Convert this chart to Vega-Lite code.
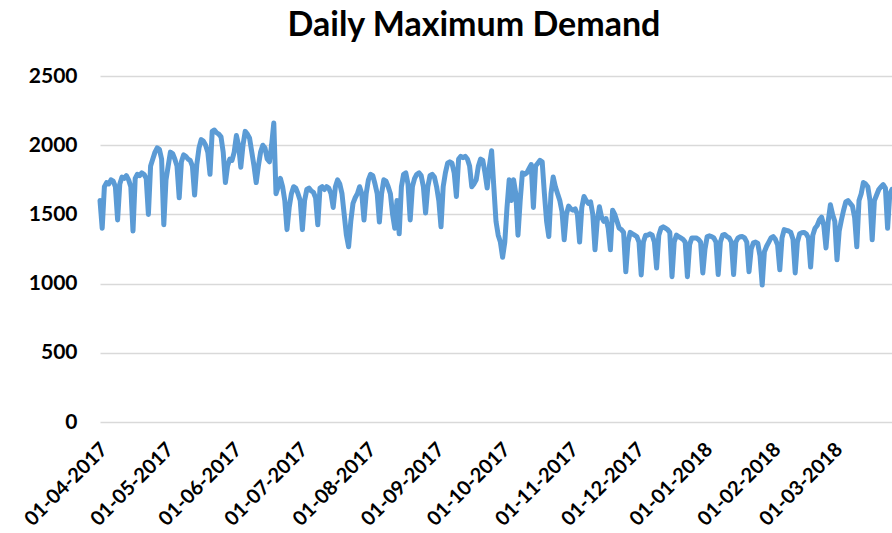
{
  "$schema": "https://vega.github.io/schema/vega-lite/v6.json",
  "width": 792,
  "height": 346,
  "autosize": {"type": "none"},
  "padding": {"left": 100, "top": 76, "right": 0, "bottom": 111},
  "background": "#ffffff",
  "config": {"view": {"stroke": null}},
  "title": {"text": "Daily Maximum Demand", "font": "Lato", "fontSize": 34, "fontWeight": "bold", "color": "#000000", "anchor": "middle", "dx": -22, "offset": 22},
  "data": {"values": [
    {"date":"2017-04-01","demand":1600},{"date":"2017-04-02","demand":1400},{"date":"2017-04-03","demand":1700},{"date":"2017-04-04","demand":1730},{"date":"2017-04-05","demand":1720},{"date":"2017-04-06","demand":1750},{"date":"2017-04-07","demand":1740},{"date":"2017-04-08","demand":1700},{"date":"2017-04-09","demand":1460},{"date":"2017-04-10","demand":1720},{"date":"2017-04-11","demand":1770},{"date":"2017-04-12","demand":1760},{"date":"2017-04-13","demand":1780},{"date":"2017-04-14","demand":1750},{"date":"2017-04-15","demand":1700},{"date":"2017-04-16","demand":1380},{"date":"2017-04-17","demand":1760},{"date":"2017-04-18","demand":1790},{"date":"2017-04-19","demand":1780},{"date":"2017-04-20","demand":1800},{"date":"2017-04-21","demand":1790},{"date":"2017-04-22","demand":1760},{"date":"2017-04-23","demand":1500},{"date":"2017-04-24","demand":1850},{"date":"2017-04-25","demand":1900},{"date":"2017-04-26","demand":1950},{"date":"2017-04-27","demand":1980},{"date":"2017-04-28","demand":1970},{"date":"2017-04-29","demand":1900},{"date":"2017-04-30","demand":1425},
    {"date":"2017-05-01","demand":1750},{"date":"2017-05-02","demand":1850},{"date":"2017-05-03","demand":1950},{"date":"2017-05-04","demand":1940},{"date":"2017-05-05","demand":1900},{"date":"2017-05-06","demand":1850},{"date":"2017-05-07","demand":1620},{"date":"2017-05-08","demand":1880},{"date":"2017-05-09","demand":1930},{"date":"2017-05-10","demand":1920},{"date":"2017-05-11","demand":1900},{"date":"2017-05-12","demand":1890},{"date":"2017-05-13","demand":1850},{"date":"2017-05-14","demand":1640},{"date":"2017-05-15","demand":1860},{"date":"2017-05-16","demand":1980},{"date":"2017-05-17","demand":2040},{"date":"2017-05-18","demand":2030},{"date":"2017-05-19","demand":2000},{"date":"2017-05-20","demand":1950},{"date":"2017-05-21","demand":1790},{"date":"2017-05-22","demand":2100},{"date":"2017-05-23","demand":2110},{"date":"2017-05-24","demand":2090},{"date":"2017-05-25","demand":2080},{"date":"2017-05-26","demand":2060},{"date":"2017-05-27","demand":1950},{"date":"2017-05-28","demand":1730},{"date":"2017-05-29","demand":1850},{"date":"2017-05-30","demand":1900},{"date":"2017-05-31","demand":1890},
    {"date":"2017-06-01","demand":1950},{"date":"2017-06-02","demand":2070},{"date":"2017-06-03","demand":2000},{"date":"2017-06-04","demand":1840},{"date":"2017-06-05","demand":2000},{"date":"2017-06-06","demand":2100},{"date":"2017-06-07","demand":2080},{"date":"2017-06-08","demand":2050},{"date":"2017-06-09","demand":1950},{"date":"2017-06-10","demand":1850},{"date":"2017-06-11","demand":1730},{"date":"2017-06-12","demand":1850},{"date":"2017-06-13","demand":1950},{"date":"2017-06-14","demand":2000},{"date":"2017-06-15","demand":1980},{"date":"2017-06-16","demand":1900},{"date":"2017-06-17","demand":1880},{"date":"2017-06-18","demand":2000},{"date":"2017-06-19","demand":2160},{"date":"2017-06-20","demand":1650},{"date":"2017-06-21","demand":1700},{"date":"2017-06-22","demand":1760},{"date":"2017-06-23","demand":1700},{"date":"2017-06-24","demand":1600},{"date":"2017-06-25","demand":1390},{"date":"2017-06-26","demand":1550},{"date":"2017-06-27","demand":1650},{"date":"2017-06-28","demand":1700},{"date":"2017-06-29","demand":1690},{"date":"2017-06-30","demand":1650},
    {"date":"2017-07-01","demand":1600},{"date":"2017-07-02","demand":1390},{"date":"2017-07-03","demand":1600},{"date":"2017-07-04","demand":1680},{"date":"2017-07-05","demand":1690},{"date":"2017-07-06","demand":1670},{"date":"2017-07-07","demand":1660},{"date":"2017-07-08","demand":1620},{"date":"2017-07-09","demand":1425},{"date":"2017-07-10","demand":1690},{"date":"2017-07-11","demand":1700},{"date":"2017-07-12","demand":1680},{"date":"2017-07-13","demand":1700},{"date":"2017-07-14","demand":1690},{"date":"2017-07-15","demand":1650},{"date":"2017-07-16","demand":1550},{"date":"2017-07-17","demand":1700},{"date":"2017-07-18","demand":1750},{"date":"2017-07-19","demand":1720},{"date":"2017-07-20","demand":1650},{"date":"2017-07-21","demand":1500},{"date":"2017-07-22","demand":1350},{"date":"2017-07-23","demand":1266},{"date":"2017-07-24","demand":1450},{"date":"2017-07-25","demand":1580},{"date":"2017-07-26","demand":1620},{"date":"2017-07-27","demand":1650},{"date":"2017-07-28","demand":1700},{"date":"2017-07-29","demand":1650},{"date":"2017-07-30","demand":1460},{"date":"2017-07-31","demand":1650},
    {"date":"2017-08-01","demand":1750},{"date":"2017-08-02","demand":1790},{"date":"2017-08-03","demand":1780},{"date":"2017-08-04","demand":1720},{"date":"2017-08-05","demand":1650},{"date":"2017-08-06","demand":1445},{"date":"2017-08-07","demand":1650},{"date":"2017-08-08","demand":1750},{"date":"2017-08-09","demand":1740},{"date":"2017-08-10","demand":1700},{"date":"2017-08-11","demand":1650},{"date":"2017-08-12","demand":1500},{"date":"2017-08-13","demand":1400},{"date":"2017-08-14","demand":1600},{"date":"2017-08-15","demand":1360},{"date":"2017-08-16","demand":1700},{"date":"2017-08-17","demand":1790},{"date":"2017-08-18","demand":1800},{"date":"2017-08-19","demand":1720},{"date":"2017-08-20","demand":1460},{"date":"2017-08-21","demand":1700},{"date":"2017-08-22","demand":1760},{"date":"2017-08-23","demand":1790},{"date":"2017-08-24","demand":1800},{"date":"2017-08-25","demand":1780},{"date":"2017-08-26","demand":1700},{"date":"2017-08-27","demand":1510},{"date":"2017-08-28","demand":1700},{"date":"2017-08-29","demand":1780},{"date":"2017-08-30","demand":1790},{"date":"2017-08-31","demand":1770},
    {"date":"2017-09-01","demand":1700},{"date":"2017-09-02","demand":1600},{"date":"2017-09-03","demand":1410},{"date":"2017-09-04","demand":1700},{"date":"2017-09-05","demand":1800},{"date":"2017-09-06","demand":1870},{"date":"2017-09-07","demand":1880},{"date":"2017-09-08","demand":1870},{"date":"2017-09-09","demand":1800},{"date":"2017-09-10","demand":1630},{"date":"2017-09-11","demand":1900},{"date":"2017-09-12","demand":1920},{"date":"2017-09-13","demand":1910},{"date":"2017-09-14","demand":1920},{"date":"2017-09-15","demand":1900},{"date":"2017-09-16","demand":1850},{"date":"2017-09-17","demand":1700},{"date":"2017-09-18","demand":1720},{"date":"2017-09-19","demand":1750},{"date":"2017-09-20","demand":1850},{"date":"2017-09-21","demand":1900},{"date":"2017-09-22","demand":1890},{"date":"2017-09-23","demand":1800},{"date":"2017-09-24","demand":1690},{"date":"2017-09-25","demand":1850},{"date":"2017-09-26","demand":1960},{"date":"2017-09-27","demand":1700},{"date":"2017-09-28","demand":1450},{"date":"2017-09-29","demand":1350},{"date":"2017-09-30","demand":1300},
    {"date":"2017-10-01","demand":1190},{"date":"2017-10-02","demand":1300},{"date":"2017-10-03","demand":1550},{"date":"2017-10-04","demand":1750},{"date":"2017-10-05","demand":1600},{"date":"2017-10-06","demand":1750},{"date":"2017-10-07","demand":1650},{"date":"2017-10-08","demand":1350},{"date":"2017-10-09","demand":1600},{"date":"2017-10-10","demand":1800},{"date":"2017-10-11","demand":1790},{"date":"2017-10-12","demand":1800},{"date":"2017-10-13","demand":1830},{"date":"2017-10-14","demand":1860},{"date":"2017-10-15","demand":1550},{"date":"2017-10-16","demand":1850},{"date":"2017-10-17","demand":1870},{"date":"2017-10-18","demand":1890},{"date":"2017-10-19","demand":1880},{"date":"2017-10-20","demand":1650},{"date":"2017-10-21","demand":1450},{"date":"2017-10-22","demand":1340},{"date":"2017-10-23","demand":1650},{"date":"2017-10-24","demand":1770},{"date":"2017-10-25","demand":1700},{"date":"2017-10-26","demand":1650},{"date":"2017-10-27","demand":1600},{"date":"2017-10-28","demand":1520},{"date":"2017-10-29","demand":1316},{"date":"2017-10-30","demand":1500},{"date":"2017-10-31","demand":1560},
    {"date":"2017-11-01","demand":1540},{"date":"2017-11-02","demand":1530},{"date":"2017-11-03","demand":1540},{"date":"2017-11-04","demand":1500},{"date":"2017-11-05","demand":1300},{"date":"2017-11-06","demand":1550},{"date":"2017-11-07","demand":1630},{"date":"2017-11-08","demand":1600},{"date":"2017-11-09","demand":1580},{"date":"2017-11-10","demand":1590},{"date":"2017-11-11","demand":1500},{"date":"2017-11-12","demand":1244},{"date":"2017-11-13","demand":1450},{"date":"2017-11-14","demand":1555},{"date":"2017-11-15","demand":1480},{"date":"2017-11-16","demand":1450},{"date":"2017-11-17","demand":1470},{"date":"2017-11-18","demand":1400},{"date":"2017-11-19","demand":1244},{"date":"2017-11-20","demand":1530},{"date":"2017-11-21","demand":1500},{"date":"2017-11-22","demand":1450},{"date":"2017-11-23","demand":1400},{"date":"2017-11-24","demand":1390},{"date":"2017-11-25","demand":1370},{"date":"2017-11-26","demand":1085},{"date":"2017-11-27","demand":1300},{"date":"2017-11-28","demand":1370},{"date":"2017-11-29","demand":1360},{"date":"2017-11-30","demand":1350},
    {"date":"2017-12-01","demand":1340},{"date":"2017-12-02","demand":1300},{"date":"2017-12-03","demand":1063},{"date":"2017-12-04","demand":1300},{"date":"2017-12-05","demand":1350},{"date":"2017-12-06","demand":1350},{"date":"2017-12-07","demand":1360},{"date":"2017-12-08","demand":1350},{"date":"2017-12-09","demand":1300},{"date":"2017-12-10","demand":1113},{"date":"2017-12-11","demand":1350},{"date":"2017-12-12","demand":1400},{"date":"2017-12-13","demand":1410},{"date":"2017-12-14","demand":1400},{"date":"2017-12-15","demand":1390},{"date":"2017-12-16","demand":1370},{"date":"2017-12-17","demand":1050},{"date":"2017-12-18","demand":1300},{"date":"2017-12-19","demand":1350},{"date":"2017-12-20","demand":1340},{"date":"2017-12-21","demand":1330},{"date":"2017-12-22","demand":1320},{"date":"2017-12-23","demand":1300},{"date":"2017-12-24","demand":1050},{"date":"2017-12-25","demand":1280},{"date":"2017-12-26","demand":1330},{"date":"2017-12-27","demand":1330},{"date":"2017-12-28","demand":1330},{"date":"2017-12-29","demand":1320},{"date":"2017-12-30","demand":1300},{"date":"2017-12-31","demand":1077},
    {"date":"2018-01-01","demand":1250},{"date":"2018-01-02","demand":1340},{"date":"2018-01-03","demand":1345},{"date":"2018-01-04","demand":1340},{"date":"2018-01-05","demand":1330},{"date":"2018-01-06","demand":1300},{"date":"2018-01-07","demand":1065},{"date":"2018-01-08","demand":1300},{"date":"2018-01-09","demand":1350},{"date":"2018-01-10","demand":1355},{"date":"2018-01-11","demand":1340},{"date":"2018-01-12","demand":1330},{"date":"2018-01-13","demand":1300},{"date":"2018-01-14","demand":1065},{"date":"2018-01-15","demand":1300},{"date":"2018-01-16","demand":1330},{"date":"2018-01-17","demand":1338},{"date":"2018-01-18","demand":1340},{"date":"2018-01-19","demand":1330},{"date":"2018-01-20","demand":1300},{"date":"2018-01-21","demand":1085},{"date":"2018-01-22","demand":1250},{"date":"2018-01-23","demand":1294},{"date":"2018-01-24","demand":1300},{"date":"2018-01-25","demand":1290},{"date":"2018-01-26","demand":1200},{"date":"2018-01-27","demand":990},{"date":"2018-01-28","demand":1230},{"date":"2018-01-29","demand":1270},{"date":"2018-01-30","demand":1300},{"date":"2018-01-31","demand":1330},
    {"date":"2018-02-01","demand":1340},{"date":"2018-02-02","demand":1320},{"date":"2018-02-03","demand":1280},{"date":"2018-02-04","demand":1100},{"date":"2018-02-05","demand":1330},{"date":"2018-02-06","demand":1390},{"date":"2018-02-07","demand":1385},{"date":"2018-02-08","demand":1380},{"date":"2018-02-09","demand":1370},{"date":"2018-02-10","demand":1320},{"date":"2018-02-11","demand":1077},{"date":"2018-02-12","demand":1300},{"date":"2018-02-13","demand":1360},{"date":"2018-02-14","demand":1367},{"date":"2018-02-15","demand":1370},{"date":"2018-02-16","demand":1360},{"date":"2018-02-17","demand":1330},{"date":"2018-02-18","demand":1120},{"date":"2018-02-19","demand":1350},{"date":"2018-02-20","demand":1400},{"date":"2018-02-21","demand":1420},{"date":"2018-02-22","demand":1461},{"date":"2018-02-23","demand":1480},{"date":"2018-02-24","demand":1420},{"date":"2018-02-25","demand":1258},{"date":"2018-02-26","demand":1450},{"date":"2018-02-27","demand":1570},{"date":"2018-02-28","demand":1500},
    {"date":"2018-03-01","demand":1450},{"date":"2018-03-02","demand":1172},{"date":"2018-03-03","demand":1380},{"date":"2018-03-04","demand":1460},{"date":"2018-03-05","demand":1530},{"date":"2018-03-06","demand":1590},{"date":"2018-03-07","demand":1600},{"date":"2018-03-08","demand":1580},{"date":"2018-03-09","demand":1560},{"date":"2018-03-10","demand":1480},{"date":"2018-03-11","demand":1266},{"date":"2018-03-12","demand":1600},{"date":"2018-03-13","demand":1650},{"date":"2018-03-14","demand":1730},{"date":"2018-03-15","demand":1720},{"date":"2018-03-16","demand":1700},{"date":"2018-03-17","demand":1600},{"date":"2018-03-18","demand":1316},{"date":"2018-03-19","demand":1600},{"date":"2018-03-20","demand":1640},{"date":"2018-03-21","demand":1680},{"date":"2018-03-22","demand":1700},{"date":"2018-03-23","demand":1715},{"date":"2018-03-24","demand":1690},{"date":"2018-03-25","demand":1400},{"date":"2018-03-26","demand":1650},{"date":"2018-03-27","demand":1680}
  ]},
  "mark": {"type": "line", "color": "#5B9BD5", "strokeWidth": 5, "strokeJoin": "round", "strokeCap": "round", "clip": false},
  "encoding": {
    "x": {
      "field": "date", "type": "temporal",
      "scale": {"type": "utc", "domain": [{"year": 2017, "month": 4, "date": 1, "utc": true}, {"year": 2018, "month": 3, "date": 27, "utc": true}], "nice": false},
      "axis": {"title": null, "labelExpr": "utcFormat(datum.value, '%d-%m-%Y')", "tickCount": {"interval": "month", "step": 1}, "labelAngle": -45, "labelFont": "Lato", "labelFontSize": 20, "labelFontWeight": "bold", "labelColor": "#000000", "labelPadding": 17, "labelOffset": -3, "domain": false, "ticks": false, "grid": false, "labelOverlap": false, "labelBound": false, "labelFlush": false}
    },
    "y": {
      "field": "demand", "type": "quantitative",
      "scale": {"domain": [0, 2500], "nice": false, "zero": true},
      "axis": {"title": null, "values": [0, 500, 1000, 1500, 2000, 2500], "format": "d", "labelFont": "Lato", "labelFontSize": 21, "labelFontWeight": "bold", "labelColor": "#000000", "labelPadding": 23, "domain": false, "ticks": false, "grid": true, "gridColor": "#D9D9D9", "gridWidth": 1.5, "labelOverlap": false}
    }
  }
}
